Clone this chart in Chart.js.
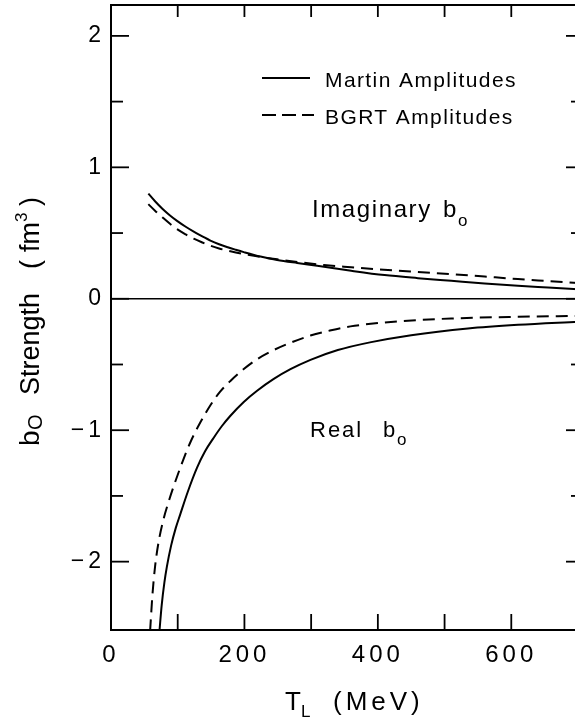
<!DOCTYPE html>
<html><head><meta charset="utf-8">
<script src="https://cdn.jsdelivr.net/npm/chart.js@4.4.1/dist/chart.umd.min.js"></script>
<style>
html,body{margin:0;padding:0;background:#fff;overflow:hidden;}
#wrap{width:575px;height:719px;overflow:hidden;position:relative;background:#fff;}
#c{position:absolute;left:0;top:0;}
</style></head><body>
<div id="wrap"><canvas id="c" width="578" height="719" style="width:578px;height:719px"></canvas></div>
<script>
// ---- data ----
const tImagMartin = [56, 66, 77, 88, 99, 112, 124, 137, 149, 162, 175, 187, 199, 224, 249, 279, 309, 360, 410, 460, 510, 560, 610, 655, 700];
const bImagMartin = [0.80, 0.742, 0.685, 0.636, 0.593, 0.548, 0.511, 0.475, 0.443, 0.415, 0.392, 0.373, 0.355, 0.321, 0.295, 0.272, 0.251, 0.213, 0.18, 0.157, 0.137, 0.117, 0.099, 0.086, 0.073];

const tImagBGRT = [56, 66, 77, 88, 99, 112, 124, 137, 149, 162, 175, 187, 199, 224, 249, 284, 319, 360, 409, 460, 510, 560, 610, 655, 700];
const bImagBGRT = [0.72, 0.67, 0.62, 0.572, 0.53, 0.49, 0.457, 0.428, 0.404, 0.383, 0.366, 0.352, 0.34, 0.318, 0.30, 0.277, 0.257, 0.24, 0.221, 0.204, 0.188, 0.169, 0.15, 0.135, 0.12];

const tRealMartin = [72.6, 76, 80, 83.7, 90, 97, 103.8, 115, 129, 141, 154, 166, 179, 199, 219, 244, 269, 299, 340, 390, 450, 535, 610, 700];
const bRealMartin = [-2.53, -2.33, -2.16, -2.04, -1.88, -1.745, -1.64, -1.47, -1.285, -1.16, -1.057, -0.97, -0.89, -0.785, -0.70, -0.61, -0.536, -0.465, -0.39, -0.33, -0.277, -0.226, -0.198, -0.175];

const tRealBGRT = [58.6, 62, 66, 71, 78.6, 86, 93.7, 108.7, 120, 134, 149, 163, 179, 199, 219, 240, 264, 299, 330, 359, 400, 435, 510, 610, 700];
const bRealBGRT = [-2.53, -2.26, -2.04, -1.86, -1.68, -1.55, -1.43, -1.22, -1.08, -0.94, -0.81, -0.71, -0.625, -0.535, -0.46, -0.40, -0.345, -0.28, -0.24, -0.21, -0.185, -0.17, -0.15, -0.137, -0.13];

const xTickLabels = [0, 200, 400, 600];
const yTickLabels = [-2, -1, 0, 1, 2];

const pts = (xs, ys) => xs.map((v, i) => ({x: v, y: ys[i]}));
const FONT = "'Liberation Sans', Arial, sans-serif";

function txt(ctx, s, x, y, size, ls) {
  ctx.font = size + "px " + FONT;
  ctx.letterSpacing = (ls || 0) + "px";
  ctx.fillText(s, x, y);
}

const framePlugin = {
  id: 'frame',
  beforeDraw(chart) {
    chart.ctx.letterSpacing = '4px';
  },
  afterDraw(chart) {
    const {ctx, chartArea: a, scales: {x, y}} = chart;
    ctx.save();
    ctx.letterSpacing = '0px';
    ctx.strokeStyle = '#000';
    ctx.fillStyle = '#000';
    ctx.lineWidth = 2;
    ctx.setLineDash([]);
    ctx.strokeRect(a.left, a.top, a.right - a.left, a.bottom - a.top);
    const line = (x1, y1, x2, y2) => { ctx.beginPath(); ctx.moveTo(x1, y1); ctx.lineTo(x2, y2); ctx.stroke(); };
    // zero line
    ctx.lineWidth = 1.5;
    const y0 = y.getPixelForValue(0);
    line(a.left, y0, a.right, y0);
    ctx.lineWidth = 1.8;
    // y ticks (inward)
    y.ticks.forEach(t => {
      const py = y.getPixelForValue(t.value);
      if (py < a.top + 6 || py > a.bottom - 6) return;
      const major = Math.abs(t.value - Math.round(t.value)) < 1e-6;
      line(a.left, py, a.left + (major ? 18 : 12), py);
      line(a.right - (major ? 12 : 7), py, a.right, py);
    });
    // x ticks (inward)
    x.ticks.forEach(t => {
      const px = x.getPixelForValue(t.value);
      if (px < a.left + 6 || px > a.right - 6) return;
      line(px, a.bottom, px, a.bottom - 16);
      line(px, a.top, px, a.top + 12);
    });
    // legend
    ctx.lineWidth = 2;
    line(262, 78, 310, 78);
    ctx.setLineDash([14, 6]);
    line(262, 115, 314, 115);
    ctx.setLineDash([]);
    ctx.textBaseline = 'alphabetic';
    ctx.textAlign = 'left';
    txt(ctx, 'Martin Amplitudes', 325, 87, 21, 1.4);
    txt(ctx, 'BGRT Amplitudes', 325, 124, 21, 1.4);
    // curve annotations
    txt(ctx, 'Imaginary', 312, 217, 24, 1.6);
    txt(ctx, 'b', 443, 217, 24, 0);
    txt(ctx, 'o', 458, 226, 17, 0);
    txt(ctx, 'Real', 310, 437, 22, 2);
    txt(ctx, 'b', 383, 437, 22, 0);
    txt(ctx, 'o', 397, 445, 17, 0);
    // x title
    txt(ctx, 'T', 285, 710, 26, 0);
    txt(ctx, 'L', 301, 717, 17, 0);
    txt(ctx, '(MeV)', 333, 710, 26, 4);
    // y title (rotated)
    ctx.save();
    ctx.translate(39, 447);
    ctx.rotate(-Math.PI / 2);
    txt(ctx, 'b', 1, 0, 28, 0);
    txt(ctx, 'O', 17, 3, 20, 0);
    txt(ctx, 'Strength', 52, 0, 27, 0);
    txt(ctx, '(', 178, 0, 27, 0);
    txt(ctx, 'fm', 195, 0, 27, 0);
    txt(ctx, '3', 225, -12, 17, 0);
    txt(ctx, ')', 241, 0, 27, 0);
    ctx.restore();
    ctx.restore();
  }
};

new Chart(document.getElementById('c'), {
  type: 'line',
  data: {
    datasets: [
      {label: 'Martin Imag', data: pts(tImagMartin, bImagMartin)},
      {label: 'BGRT Imag', data: pts(tImagBGRT, bImagBGRT), borderDash: [12, 7]},
      {label: 'Martin Real', data: pts(tRealMartin, bRealMartin)},
      {label: 'BGRT Real', data: pts(tRealBGRT, bRealBGRT), borderDash: [12, 7]}
    ].map(d => Object.assign({
      borderColor: '#000', borderWidth: 2, pointRadius: 0, fill: false,
      cubicInterpolationMode: 'monotone'
    }, d))
  },
  options: {
    responsive: false,
    animation: false,
    devicePixelRatio: 1,
    layout: {padding: {top: 5, left: 0, right: 0, bottom: 0}},
    plugins: {legend: {display: false}, tooltip: {enabled: false}},
    scales: {
      x: {
        type: 'linear', min: 0, max: 700,
        grid: {display: false, drawTicks: false},
        border: {display: false},
        afterFit(s) { s.height = 89; s.paddingLeft = 0; s.paddingRight = 0; },
        ticks: {
          stepSize: 100, autoSkip: false, maxRotation: 0, padding: 11,
          color: '#000', font: {family: FONT, size: 24},
          callback: v => xTickLabels.includes(v) ? String(v) : ''
        }
      },
      y: {
        type: 'linear', min: -2.52, max: 2.235,
        grid: {display: false, drawTicks: false},
        border: {display: false},
        afterFit(s) { s.width = 111; s.paddingTop = 0; s.paddingBottom = 0; },
        ticks: {
          stepSize: 0.5, includeBounds: false, autoSkip: false, padding: 6,
          color: '#000', font: {family: FONT, size: 23},
          callback: v => yTickLabels.includes(v) ? (v < 0 ? '\u2212' + Math.abs(v) : String(v)) : ''
        }
      }
    }
  },
  plugins: [framePlugin]
});
</script>
</body></html>
